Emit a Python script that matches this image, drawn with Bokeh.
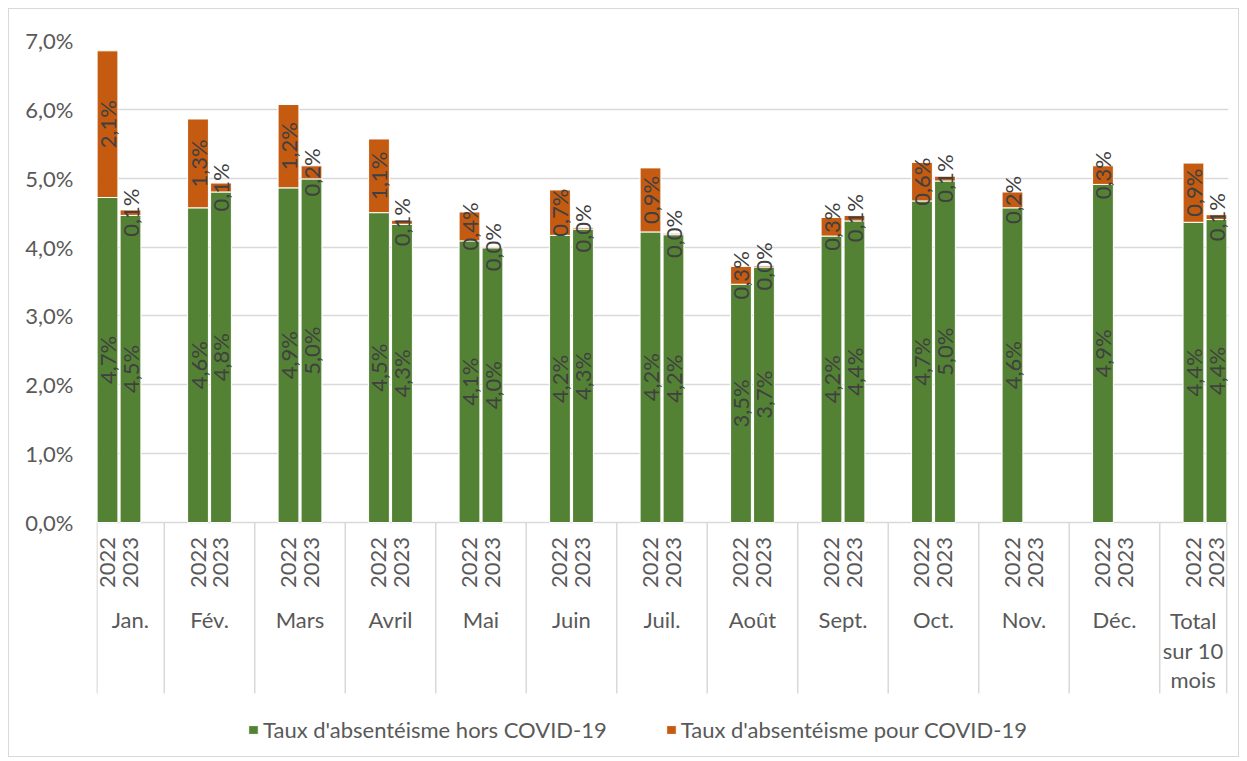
import numpy as np
from bokeh.plotting import figure
from bokeh.models import (ColumnDataSource, Range1d, FixedTicker, Legend, LegendItem)
from bokeh.core.properties import value
from bokeh.embed import file_html
from bokeh.resources import INLINE

months = ["Jan.", "Fév.", "Mars", "Avril", "Mai", "Juin", "Juil.", "Août",
          "Sept.", "Oct.", "Nov.", "Déc.", "Total\nsur 10\nmois"]
years = ["2022", "2023"]
hors_2022 = [4.72, 4.57, 4.86, 4.50, 4.09, 4.17, 4.22, 3.46, 4.16, 4.67, 4.57, 4.91, 4.36]
covid_2022 = [2.13, 1.29, 1.21, 1.07, 0.42, 0.66, 0.93, 0.26, 0.27, 0.56, 0.23, 0.27, 0.86]
hors_2023 = [4.46, 4.80, 4.99, 4.33, 3.99, 4.26, 4.18, 3.71, 4.38, 4.96, None, None, 4.40]
covid_2023 = [0.08, 0.13, 0.19, 0.06, 0.02, 0.02, 0.02, 0.02, 0.08, 0.07, None, None, 0.07]
y_ticks = [0, 1, 2, 3, 4, 5, 6, 7]
series_names = ["Taux d'absentéisme hors COVID-19", "Taux d'absentéisme pour COVID-19"]

GREEN = "#548235"
ORANGE = "#C55A11"
FONT = "Lato"
TXT = "#595959"
LBL = "#404040"
FS = "22px"


def fmt(v):
    return f"{v:.1f}".replace(".", ",") + "%"


n = len(months)
xc = np.arange(n, dtype=float)
off = 0.127
bw = 0.23
x0, x1 = -0.2486, 12.26

p = figure(width=1231, height=749, output_backend="svg", toolbar_location=None,
           x_range=Range1d(x0, x1), y_range=Range1d(-3.282, 7.0),
           min_border_left=87, min_border_top=31, min_border_bottom=10, min_border_right=12)
p.styles = {"border": "1px solid #D9D9D9", "margin-left": "8px", "margin-top": "8px"}
p.outline_line_color = None
p.xaxis.visible = False
p.xgrid.visible = False
p.ygrid.ticker = FixedTicker(ticks=y_ticks)
p.ygrid.grid_line_color = "#D9D9D9"
p.ygrid.grid_line_width = 1.5
p.yaxis.ticker = FixedTicker(ticks=y_ticks)
p.yaxis.major_label_overrides = {t: f"{t},0%" for t in y_ticks}
p.yaxis.axis_line_color = None
p.yaxis.major_tick_line_color = None
p.yaxis.minor_tick_line_color = None
p.yaxis.major_label_standoff = 17
p.yaxis.major_label_text_font = FONT
p.yaxis.major_label_text_font_size = FS
p.yaxis.major_label_text_color = TXT

renderers = {}
label_x, label_y, label_t = [], [], []
for yi, (hors, cov, sgn) in enumerate([(hors_2022, covid_2022, -1), (hors_2023, covid_2023, 1)]):
    idx = [i for i in range(n) if hors[i] is not None]
    xs = [xc[i] + sgn * off for i in idx]
    h = [hors[i] for i in idx]
    c = [cov[i] for i in idx]
    top = [a + b for a, b in zip(h, c)]
    src = ColumnDataSource(dict(x=xs, h=h, top=top, zero=[0] * len(xs)))
    rg = p.vbar(x="x", bottom="zero", top="h", width=bw, source=src,
                fill_color=GREEN, line_color="white", line_width=1)
    ro = p.vbar(x="x", bottom="h", top="top", width=bw, source=src,
                fill_color=ORANGE, line_color="white", line_width=1)
    renderers.setdefault("g", []).append(rg)
    renderers.setdefault("o", []).append(ro)
    for xx, a, t in zip(xs, h, top):
        label_x += [xx, xx]
        label_y += [a / 2, (a + t) / 2]
        label_t += [fmt(a), fmt(t - a)]

p.text(x=label_x, y=label_y, text=label_t, angle=np.pi / 2,
       text_align="center", text_baseline="middle",
       text_font=value(FONT), text_font_size=FS, text_color=LBL)

# category axis (two levels) drawn below the zero line
sep_bottom = -2.483
bounds = [x0] + [i - 0.5 for i in range(1, n)] + [x1 - 0.02]
sep_x = [x0 + 0.005] + bounds[1:]
p.segment(x0=sep_x, y0=[0] * len(sep_x), x1=sep_x, y1=[sep_bottom] * len(sep_x),
          line_color="#D9D9D9", line_width=1.5)

yr_x, yr_t = [], []
for i in range(n):
    yr_x += [xc[i] - off, xc[i] + off]
    yr_t += years
p.text(x=yr_x, y=[-0.581] * len(yr_x), text=yr_t, angle=np.pi / 2,
       text_align="center", text_baseline="middle",
       text_font=value(FONT), text_font_size=FS, text_color=TXT)

m_x = [(bounds[i] + bounds[i + 1]) / 2 for i in range(n)]
m_y = [-1.409 if "\n" not in m else -1.855 for m in months]
p.text(x=m_x, y=m_y, text=months, text_align="center", text_baseline="middle",
       text_font=value(FONT), text_font_size=FS, text_color=TXT,
       text_line_height=1.1)

legend = Legend(items=[LegendItem(label=series_names[0], renderers=renderers["g"]),
                       LegendItem(label=series_names[1], renderers=renderers["o"])],
                orientation="horizontal", location=(151, 5),
                glyph_width=12, glyph_height=11, label_standoff=4, spacing=58,
                padding=0, margin=0, label_height=22,
                label_text_font=FONT, label_text_font_size=FS, label_text_color=TXT,
                background_fill_alpha=0, border_line_alpha=0)
p.add_layout(legend, "center")

open("out.html", "w").write(file_html(p, INLINE))
